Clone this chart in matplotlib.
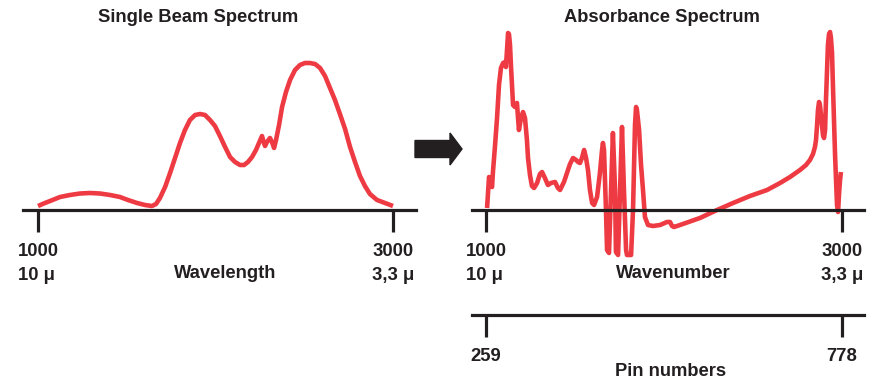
import matplotlib
matplotlib.use('Agg')
import matplotlib.pyplot as plt
from matplotlib.patches import FancyArrow
from matplotlib.transforms import IdentityTransform

# Single beam spectrum (wavelength axis 1000..3000)
beam_x = [1000, 1039, 1068, 1124, 1180, 1237, 1293, 1349, 1406, 1462, 1507, 1558,
          1603, 1642, 1665, 1687, 1716, 1744, 1772, 1800, 1828, 1856, 1885, 1913,
          1941, 1969, 1997, 2025, 2054, 2082, 2110, 2138, 2161, 2183, 2206, 2228,
          2245, 2262, 2273, 2279, 2290, 2307, 2318, 2330, 2341, 2358, 2375, 2397,
          2420, 2448, 2476, 2504, 2532, 2561, 2589, 2617, 2645, 2673, 2701, 2730,
          2758, 2786, 2814, 2842, 2870, 2910, 2955, 3000]
beam_y = [4, 7, 9, 13, 15, 16.5, 17, 16.5, 15, 13, 10, 7,
          5, 4, 6, 12, 23, 37, 52, 67, 80, 90, 95, 96,
          95, 90, 84, 74, 63, 53, 48, 45, 45, 48, 53, 60,
          67, 74, 67, 64, 68, 72, 68, 62, 70, 85, 103, 118,
          130, 140, 145, 147, 147, 146, 142, 134, 122, 110, 96, 81,
          63, 48, 34, 24, 16, 10, 7, 4]

# Absorbance spectrum (wavenumber axis 1000..3000)
abs_x = [1006, 1017, 1028, 1034, 1039, 1051, 1062, 1073, 1084, 1096, 1107, 1112,
         1118, 1124, 1129, 1135, 1140, 1146, 1152, 1163, 1174, 1180, 1185, 1197,
         1208, 1219, 1230, 1236, 1247, 1258, 1270, 1287, 1303, 1315, 1331, 1348,
         1365, 1388, 1404, 1416, 1438, 1455, 1472, 1489, 1506, 1517, 1528, 1539,
         1551, 1562, 1573, 1584, 1596, 1607, 1624, 1640, 1652, 1657, 1663, 1674,
         1680, 1691, 1702, 1713, 1725, 1730, 1742, 1753, 1764, 1775, 1787, 1792,
         1815, 1826, 1837, 1843, 1848, 1860, 1871, 1882, 1893, 1910, 1938, 1978,
         2017, 2034, 2045, 2056, 2090, 2202, 2298, 2388, 2483, 2579, 2652, 2708,
         2764, 2798, 2820, 2837, 2848, 2854, 2860, 2865, 2871, 2876, 2882, 2893,
         2899, 2905, 2910, 2916, 2921, 2927, 2933, 2938, 2944, 2949, 2961, 2972,
         2978, 2983, 2989, 2994]
abs_y = [2, 33, 25, 23, 38, 65, 92, 125, 142, 147, 148, 143,
         160, 177, 176, 165, 145, 125, 105, 103, 107, 92, 80, 92,
         98, 92, 70, 52, 35, 24, 22, 27, 36, 38, 32, 25,
         27, 28, 22, 20, 28, 37, 46, 52, 50, 48, 47, 52,
         60, 52, 40, 20, 7, 5, 13, 37, 60, 67, 60, 0,
         -40, -43, 17, 77, 20, -42, -45, 19, 83, 20, -40, -45,
         -45, 0, 85, 103, 100, 80, 45, 20, -7, -15, -16, -15,
         -12, -12, -16, -17, -15, -8, 0, 7, 14, 20, 27, 33,
         40, 45, 50, 56, 63, 70, 85, 100, 108, 105, 95, 75,
         72, 80, 110, 140, 165, 176, 178, 172, 157, 125, 55, 5,
         -2, 15, 30, 38]

wave_ticks = [1000, 3000]
wave_labels = ['1000\n10 \u03bc', '3000\n3,3 \u03bc']
pin_ticks = [259, 778]
pin_labels = ['259', '778']

W, H = 884, 383
RED = '#ee3b43'
INK = '#231f20'
plt.rcParams['font.family'] = ['Liberation Sans', 'DejaVu Sans']

fig = plt.figure(figsize=(W / 100, H / 100), dpi=100)


def px_axes(left, right, base, below, above):
    # axes placed in pixel units, y measured from top of image
    return fig.add_axes([left / W, (H - base - below) / H,
                         (right - left) / W, (below + above) / H])


def style(ax, ticks, labels):
    for s in ['top', 'left', 'right']:
        ax.spines[s].set_visible(False)
    ax.spines['bottom'].set_position(('data', 0))
    ax.spines['bottom'].set_color(INK)
    ax.spines['bottom'].set_linewidth(2.3)
    ax.set_yticks([])
    ax.set_xticks(ticks)
    ax.set_xticklabels(labels, fontsize=13.3, fontweight='bold', color=INK,
                       linespacing=1.6)
    ax.tick_params(axis='x', direction='out', length=15.5, width=2.3,
                   color=INK, pad=8)
    ax.set_facecolor('none')


# left panel
ax1 = px_axes(23, 416, 210, 60, 150)
ax1.plot(beam_x, beam_y, color=RED, lw=3.3, solid_joinstyle='round',
         solid_capstyle='butt')
ax1.set_xlim(1000 - 15 * 2000 / 355, 3000 + 23 * 2000 / 355)
ax1.set_ylim(-60, 150)
style(ax1, wave_ticks, wave_labels)

# right panel
ax2 = px_axes(472, 864, 210, 60, 190)
ax2.plot(abs_x, abs_y, color=RED, lw=3.3, solid_joinstyle='round',
         solid_capstyle='butt')
ax2.set_xlim(1000 - 14 * 2000 / 356, 3000 + 22 * 2000 / 356)
ax2.set_ylim(-60, 190)
style(ax2, wave_ticks, wave_labels)

for ax in (ax1, ax2):
    labs = ax.get_xticklabels()
    labs[0].set_multialignment('left')
    labs[1].set_multialignment('right')

# pin number axis
ax3 = px_axes(472, 864, 315, 1, 1)
ax3.set_xlim(259 - 14 * 519 / 356, 778 + 22 * 519 / 356)
ax3.set_ylim(-1, 1)
style(ax3, pin_ticks, pin_labels)

tk = dict(fontsize=13.2, fontweight='bold', color=INK, ha='center', va='center')
fig.text(198 / W, 1 - 17 / H, 'Single Beam Spectrum', **tk)
fig.text(662 / W, 1 - 17 / H, 'Absorbance Spectrum', **tk)
fig.text(225 / W, 1 - 273 / H, 'Wavelength', **tk)
fig.text(673 / W, 1 - 273 / H, 'Wavenumber', **tk)
fig.text(671 / W, 1 - 372 / H, 'Pin numbers', **tk)

# arrow between the panels
fig.add_artist(FancyArrow(415, H - 149, 47, 0, width=17, head_width=32,
                          head_length=12, length_includes_head=True,
                          color=INK, transform=IdentityTransform()))

fig.savefig('out.png', dpi=100)
